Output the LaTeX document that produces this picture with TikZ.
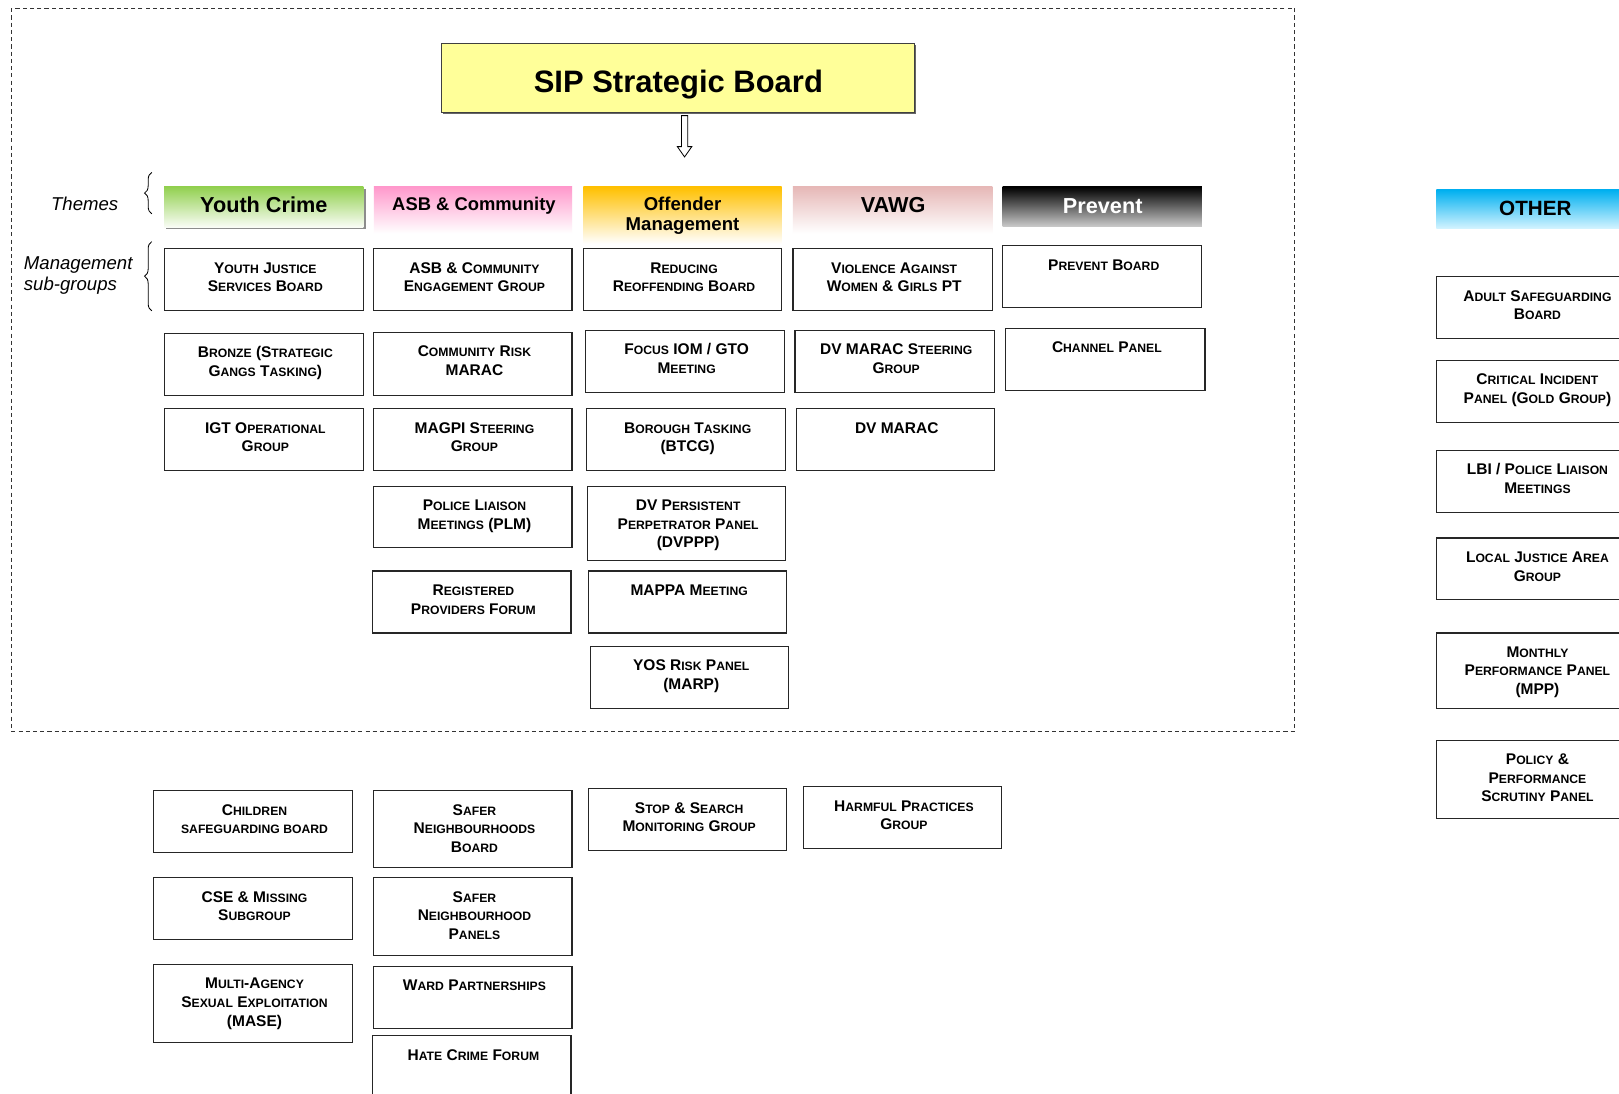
\documentclass[tikz,border=0pt]{standalone}
\usepackage{fontspec}
\setmainfont{Liberation Sans}
\usetikzlibrary{decorations.pathreplacing}
\definecolor{sipyellow}{HTML}{FFFF99}
\definecolor{ycgreen}{HTML}{92D050}
\definecolor{asbpink}{HTML}{FF99CC}
\definecolor{offorange}{HTML}{FFC000}
\definecolor{vawgpink}{HTML}{E6B8B7}
\definecolor{othblue}{HTML}{00B0F0}
\definecolor{othlight}{HTML}{D2F3FF}
\definecolor{prevgray}{HTML}{C8C8C8}
\newcommand\smc[1]{{\fontsize{11.8}{18}\selectfont #1}}
\newcommand\bx[6]{%
  \node[gbox, minimum width={#4-#2}, minimum height={#5-#3}] (#1) at ({(#2+#4)/2},{(#3+#5)/2}) {};
  \node[btxt, anchor=north] (#1t) at ([yshift=-11.5pt,xshift=1.5pt]#1.north) {\rule{0pt}{12pt}#6};
}
\newcommand\hdr[8]{% name x1 y1 x2 y2 topcolor bottomcolor unused
  \node[hbox, top color=#6, bottom color=#7, minimum width={#4-#2}, minimum height={#5-#3}] (#1) at ({(#2+#4)/2},{(#3+#5)/2}) {};
}
\begin{document}
\begin{tikzpicture}[x=1pt,y=-1pt,
  gbox/.style={draw=black!85, line width=1.1pt, fill=white, inner sep=0pt, outer sep=0pt},
  btxt/.style={font=\bfseries\fontsize{15}{18}\selectfont, align=center, inner sep=0pt},
  hbox/.style={inner sep=0pt, outer sep=0pt, draw=none},
  htxt/.style={font=\bfseries\fontsize{18}{20}\selectfont, inner sep=0pt, anchor=base},
  lbl/.style={font=\itshape\fontsize{18}{20}\selectfont, inner sep=0pt},
  brc/.style={decorate, decoration={brace, amplitude=7pt}, line width=0.8pt}]
\useasboundingbox (0,0) rectangle (1568,1059);
\clip (0,0) rectangle (1568,1059);
\fill[white] (0,0) rectangle (1568,1059);

% dashed frame
\draw[dash pattern=on 4pt off 3pt, line width=0.9pt, black!80] (11,8) rectangle (1254,708);

% SIP board
\fill[black!60] (429.5,43.5) rectangle (887.5,110.5);
\node[draw=black!75, line width=1pt, fill=sipyellow, minimum width=458, minimum height=67, inner sep=0pt] (sip) at (657,75.5) {};
\node[font=\bfseries\fontsize{30}{32}\selectfont, inner sep=0pt, anchor=base] (siptxt) at (657,89.5) {SIP Strategic Board};

% hollow arrow
\coordinate (arrtop) at (663,112);
\draw[line width=0.8pt, fill=white] ([xshift=-3pt]arrtop) -- ([xshift=3pt]arrtop) -- ++(0,30) -- ++(4,0) -- (663,152) -- (656,142) -- (660,142) -- cycle;

% labels and braces
\node[lbl, anchor=base] (themes) at (82,203.5) {Themes};
\node[lbl, anchor=base west] (mgmt1) at (23,261) {Management};
\node[lbl, anchor=base west] (mgmt2) at (23,281) {sub-groups};
\coordinate (b1a) at (147,207);
\coordinate (b1b) at (147,167);
\coordinate (b2a) at (147,301);
\coordinate (b2b) at (147,234);
\draw[brc] (b1a) -- (b1b);
\draw[brc] (b2a) -- (b2b);

% theme headers
\fill[black!45] (161,183) rectangle (354,222);
\hdr{hyc}{159}{181}{352}{220}{ycgreen}{ycgreen!5}{}
\hdr{hasb}{362}{181}{554}{226}{asbpink}{white}{}
\hdr{hoff}{565}{181}{757}{236}{offorange}{white}{}
\hdr{hvawg}{768}{181}{961}{226}{vawgpink}{white}{}
\hdr{hprev}{971}{181}{1164}{219}{black}{prevgray}{}
\hdr{hoth}{1391}{184}{1584}{221}{othblue}{othlight}{}
\node[htxt, font=\bfseries\fontsize{21}{22}\selectfont] (tyc) at (255.5,206) {Youth Crime};
\node[htxt, font=\bfseries\fontsize{17.8}{20}\selectfont] (tasb) at (459,203.5) {ASB \& Community};
\node[htxt] (toff1) at (661,203.5) {Offender};
\node[htxt] (toff2) at (661,223.5) {Management};
\node[htxt, font=\bfseries\fontsize{21}{22}\selectfont] (tvawg) at (865,206) {VAWG};
\node[htxt, font=\bfseries\fontsize{21}{22}\selectfont, text=white] (tprev) at (1068,206.5) {Prevent};
\node[htxt, font=\bfseries\fontsize{20}{22}\selectfont] (toth) at (1487,209) {OTHER};

% column 1
\bx{c1a}{159}{241}{352}{301}{Y\smc{OUTH} J\smc{USTICE}\\S\smc{ERVICES} B\smc{OARD}}
\bx{c1b}{159}{323}{352}{383}{B\smc{RONZE} (S\smc{TRATEGIC}\\G\smc{ANGS} T\smc{ASKING})}
\bx{c1c}{159}{396}{352}{456}{IGT O\smc{PERATIONAL}\\G\smc{ROUP}}
% column 2
\bx{c2a}{362}{241}{554}{301}{ASB \& C\smc{OMMUNITY}\\E\smc{NGAGEMENT} G\smc{ROUP}}
\bx{c2b}{362}{322}{554}{383}{C\smc{OMMUNITY} R\smc{ISK}\\MARAC}
\bx{c2c}{362}{396}{554}{456}{MAGPI S\smc{TEERING}\\G\smc{ROUP}}
\bx{c2d}{362}{471}{554}{530}{P\smc{OLICE} L\smc{IAISON}\\M\smc{EETINGS} (PLM)}
\bx{c2e}{361}{553}{553}{613}{R\smc{EGISTERED}\\P\smc{ROVIDERS} F\smc{ORUM}}
% column 3
\bx{c3a}{565}{241}{757}{301}{R\smc{EDUCING}\\R\smc{EOFFENDING} B\smc{OARD}}
\bx{c3b}{567}{320}{760}{380}{F\smc{OCUS} IOM / GTO\\M\smc{EETING}}
\bx{c3c}{568}{396}{761}{456}{B\smc{OROUGH} T\smc{ASKING}\\(BTCG)}
\bx{c3d}{569}{471}{761}{543}{DV P\smc{ERSISTENT}\\P\smc{ERPETRATOR} P\smc{ANEL}\\(DVPPP)}
\bx{c3e}{570}{553}{762}{613}{MAPPA M\smc{EETING}}
\bx{c3f}{572}{626}{764}{686}{YOS R\smc{ISK} P\smc{ANEL}\\(MARP)}
% column 4
\bx{c4a}{768}{241}{961}{301}{V\smc{IOLENCE} A\smc{GAINST}\\W\smc{OMEN} \& G\smc{IRLS} PT}
\bx{c4b}{770}{320}{963}{380}{DV MARAC S\smc{TEERING}\\G\smc{ROUP}}
\bx{c4c}{771}{396}{963}{456}{DV MARAC}
% column 5
\bx{c5a}{971}{238}{1164}{298}{P\smc{REVENT} B\smc{OARD}}
\bx{c5b}{974}{318}{1167}{378}{C\smc{HANNEL} P\smc{ANEL}}
% other
\bx{o1}{1391}{268}{1584}{328}{A\smc{DULT} S\smc{AFEGUARDING}\\B\smc{OARD}}
\bx{o2}{1391}{349}{1584}{409}{C\smc{RITICAL} I\smc{NCIDENT}\\P\smc{ANEL} (G\smc{OLD} G\smc{ROUP})}
\bx{o3}{1391}{436}{1584}{496}{LBI / P\smc{OLICE} L\smc{IAISON}\\M\smc{EETINGS}}
\bx{o4}{1391}{521}{1584}{581}{L\smc{OCAL} J\smc{USTICE} A\smc{REA}\\G\smc{ROUP}}
\bx{o5}{1391}{613}{1584}{686}{M\smc{ONTHLY}\\P\smc{ERFORMANCE} P\smc{ANEL}\\(MPP)}
\bx{o6}{1391}{717}{1584}{793}{P\smc{OLICY} \&\\P\smc{ERFORMANCE}\\S\smc{CRUTINY} P\smc{ANEL}}
% bottom groups
\bx{d1}{149}{766}{341}{826}{C\smc{HILDREN}\\\smc{SAFEGUARDING BOARD}}
\bx{d2}{149}{850}{341}{910}{CSE \& M\smc{ISSING}\\S\smc{UBGROUP}}
\bx{d3}{149}{934}{341}{1010}{M\smc{ULTI}-A\smc{GENCY}\\S\smc{EXUAL} E\smc{XPLOITATION}\\(MASE)}
\bx{d4}{362}{766}{554}{840}{S\smc{AFER}\\N\smc{EIGHBOURHOODS}\\B\smc{OARD}}
\bx{d5}{362}{850}{554}{925}{S\smc{AFER}\\N\smc{EIGHBOURHOOD}\\P\smc{ANELS}}
\bx{d6}{362}{936}{554}{996}{W\smc{ARD} P\smc{ARTNERSHIPS}}
\bx{d7}{361}{1003}{553}{1064}{H\smc{ATE} C\smc{RIME} F\smc{ORUM}}
\bx{d8}{570}{764}{762}{824}{S\smc{TOP} \& S\smc{EARCH}\\M\smc{ONITORING} G\smc{ROUP}}
\bx{d9}{778}{762}{970}{822}{H\smc{ARMFUL} P\smc{RACTICES}\\G\smc{ROUP}}
\end{tikzpicture}
\end{document}
